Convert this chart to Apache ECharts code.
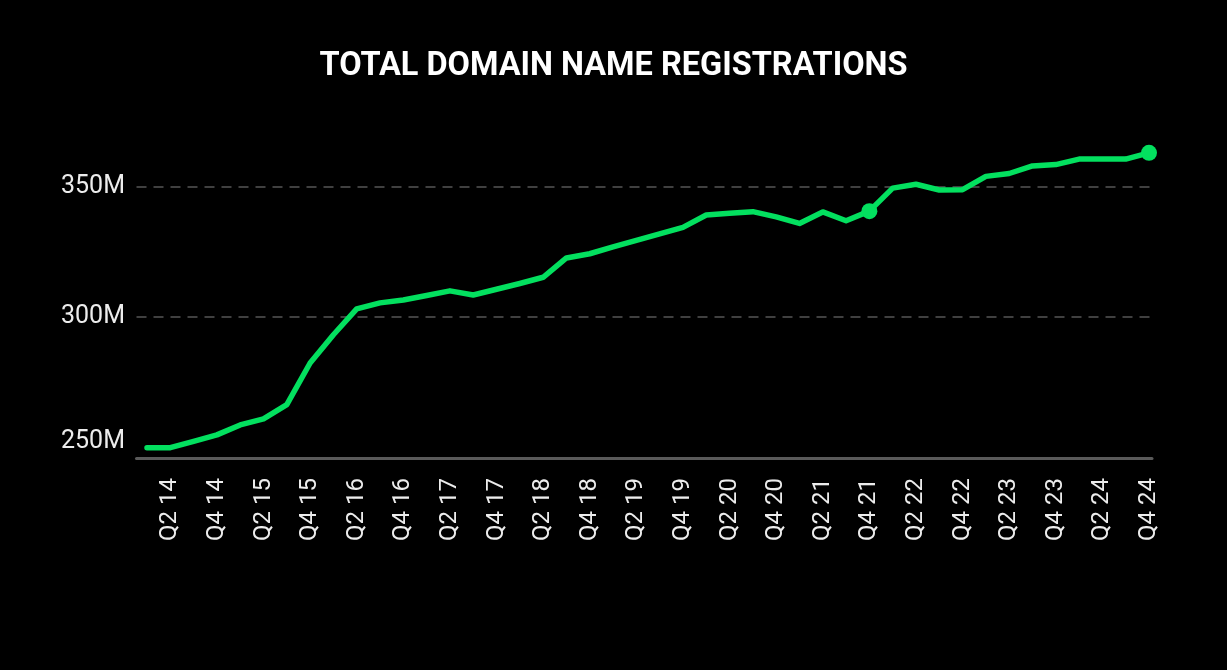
<!DOCTYPE html>
<html>
<head>
<meta charset="utf-8">
<script src="https://cdn.jsdelivr.net/npm/echarts@6/dist/echarts.min.js"></script>
<style>
  html, body { margin: 0; padding: 0; background: #000; }
  #chart { width: 1227px; height: 670px; }
</style>
</head>
<body>
<div id="chart"></div>
<script>
// ---- Data ----
const titleText = 'TOTAL DOMAIN NAME REGISTRATIONS';
const categories = [
  'Q1 14','Q2 14','Q3 14','Q4 14',
  'Q1 15','Q2 15','Q3 15','Q4 15',
  'Q1 16','Q2 16','Q3 16','Q4 16',
  'Q1 17','Q2 17','Q3 17','Q4 17',
  'Q1 18','Q2 18','Q3 18','Q4 18',
  'Q1 19','Q2 19','Q3 19','Q4 19',
  'Q1 20','Q2 20','Q3 20','Q4 20',
  'Q1 21','Q2 21','Q3 21','Q4 21',
  'Q1 22','Q2 22','Q3 22','Q4 22',
  'Q1 23','Q2 23','Q3 23','Q4 23',
  'Q1 24','Q2 24','Q3 24','Q4 24'
];
// registrations, millions
const registrations = [
  250.0, 250.0, 252.4, 254.9,
  258.7, 261.0, 266.5, 282.4,
  293.2, 303.1, 305.4, 306.5,
  308.2, 310.0, 308.4, 310.6,
  312.8, 315.2, 322.6, 324.2,
  326.8, 329.3, 331.8, 334.3,
  339.0, 339.7, 340.3, 338.3,
  335.8, 340.2, 336.8, 340.5,
  349.3, 350.8, 348.6, 348.7,
  353.8, 354.9, 357.8, 358.3,
  360.4, 360.4, 360.4, 362.8
];
const highlighted = ['Q4 21', 'Q4 24'];
const yTicks = [250, 300, 350];

// ---- Chart ----
const GREEN = '#03e05f';
const LABEL = '#ececec';
const FONT = 'Roboto, "Noto Sans", sans-serif';

const yMin = 250, yMax = 400, yStep = 50;
const gridTop = 55.6, gridBottom = 222.3;

const seriesData = registrations.map((v, i) => {
  if (highlighted.indexOf(categories[i]) >= 0) {
    return { value: v, symbol: 'circle', symbolSize: 16, itemStyle: { color: GREEN } };
  }
  return { value: v, symbol: 'none' };
});

const chart = echarts.init(document.getElementById('chart'), null, { renderer: 'canvas' });
chart.setOption({
  backgroundColor: '#000000',
  animation: false,
  title: {
    text: titleText,
    left: 'center',
    top: 45,
    textStyle: { color: '#ffffff', fontSize: 32.5, fontWeight: 'bold', fontFamily: FONT }
  },
  grid: [
    { left: 136.5, right: 75, top: gridTop, bottom: gridBottom, containLabel: false },
    { left: 147, right: 78, top: gridTop, bottom: gridBottom, containLabel: false }
  ],
  xAxis: [
    {
      type: 'value', gridIndex: 0, min: 0, max: 1, offset: 10.3,
      axisLine: { show: true, lineStyle: { color: '#5a5a5a', width: 3 } },
      axisTick: { show: false }, axisLabel: { show: false }, splitLine: { show: false }
    },
    {
      type: 'category', gridIndex: 1, data: categories, boundaryGap: false, offset: 10.3,
      axisLine: { show: false }, axisTick: { show: false }, splitLine: { show: false },
      axisLabel: {
        rotate: 90, margin: 20, color: LABEL, fontSize: 24, fontFamily: FONT,
        interval: (idx) => idx % 2 === 1
      }
    }
  ],
  yAxis: [
    {
      type: 'value', gridIndex: 0, min: yMin, max: yMax, interval: yStep,
      axisLine: { show: false }, axisTick: { show: false },
      axisLabel: {
        margin: 11.5, color: LABEL, fontSize: 25, fontFamily: FONT,
        formatter: (v) => {
          if (yTicks.indexOf(v) < 0) return '';
          if (v === yTicks[0]) return '{lo|' + v + 'M}';
          return v + 'M';
        },
        rich: { lo: { color: LABEL, fontSize: 25, fontFamily: FONT, padding: [0, 0, 11, 0] } }
      },
      splitLine: {
        show: true, showMinLine: false, showMaxLine: false,
        lineStyle: { color: '#555555', width: 1.5, type: [10, 7] }
      }
    },
    {
      type: 'value', gridIndex: 1, min: yMin, max: yMax, interval: yStep, show: false,
      splitLine: { show: false }
    }
  ],
  series: [{
    type: 'line',
    xAxisIndex: 1, yAxisIndex: 1,
    data: seriesData,
    showSymbol: true,
    showAllSymbol: true,
    symbol: 'none',
    clip: false,
    lineStyle: { color: GREEN, width: 5.5, cap: 'round', join: 'round' },
    itemStyle: { color: GREEN },
    emphasis: { disabled: true }
  }]
});
</script>
</body>
</html>
